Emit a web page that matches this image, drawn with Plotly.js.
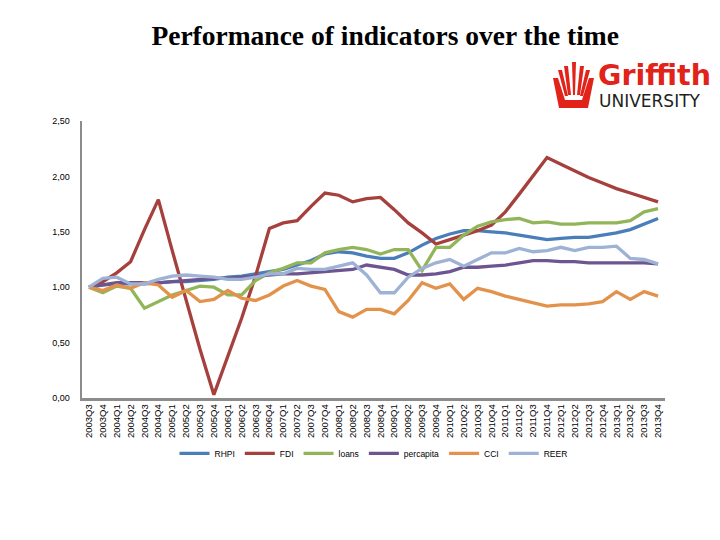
<!DOCTYPE html>
<html>
<head>
<meta charset="utf-8">
<script src="https://cdn.plot.ly/plotly-3.0.1.min.js"></script>
<style>html,body{margin:0;padding:0;background:#fff;}#chart{width:720px;height:540px;}</style>
</head>
<body>
<div id="chart"></div>
<script>
const quarters = ["2003Q3","2003Q4","2004Q1","2004Q2","2004Q3","2004Q4","2005Q1","2005Q2","2005Q3","2005Q4",
"2006Q1","2006Q2","2006Q3","2006Q4","2007Q1","2007Q2","2007Q3","2007Q4","2008Q1","2008Q2","2008Q3","2008Q4",
"2009Q1","2009Q2","2009Q3","2009Q4","2010Q1","2010Q2","2010Q3","2010Q4","2011Q1","2011Q2","2011Q3","2011Q4",
"2012Q1","2012Q2","2012Q3","2012Q4","2013Q1","2013Q2","2013Q3","2013Q4"];

const rhpi = [1.00,1.02,1.03,1.03,1.03,1.04,1.05,1.05,1.06,1.07,1.09,1.10,1.12,1.14,1.16,1.20,1.24,1.30,1.32,1.31,1.28,1.26,
1.26,1.31,1.38,1.44,1.48,1.51,1.51,1.50,1.49,1.47,1.45,1.43,1.44,1.45,1.45,1.47,1.49,1.52,1.57,1.62];
const fdi = [1.00,1.05,1.13,1.23,1.52,1.79,1.33,0.88,0.44,0.03,0.38,0.72,1.10,1.53,1.58,1.60,1.73,1.85,1.83,1.77,1.80,1.81,
1.70,1.58,1.49,1.39,1.43,1.47,1.51,1.56,1.68,1.84,2.00,2.17,2.11,2.05,1.99,1.94,1.89,1.85,1.81,1.77];
const loans = [1.00,0.95,1.01,0.99,0.81,0.87,0.93,0.97,1.01,1.00,0.93,0.93,1.06,1.13,1.17,1.22,1.22,1.31,1.34,1.36,1.34,1.30,
1.34,1.34,1.15,1.36,1.36,1.47,1.55,1.59,1.61,1.62,1.58,1.59,1.57,1.57,1.58,1.58,1.58,1.60,1.68,1.71];
const percapita = [1.00,1.02,1.04,1.04,1.04,1.04,1.05,1.06,1.07,1.08,1.08,1.09,1.10,1.11,1.12,1.12,1.13,1.14,1.15,1.16,1.20,1.18,
1.16,1.11,1.11,1.12,1.14,1.18,1.18,1.19,1.20,1.22,1.24,1.24,1.23,1.23,1.22,1.22,1.22,1.22,1.22,1.21];
const cci = [1.00,0.97,1.02,0.99,1.04,1.02,0.91,0.97,0.87,0.89,0.97,0.90,0.88,0.93,1.01,1.06,1.01,0.98,0.78,0.73,0.80,0.80,
0.76,0.88,1.04,0.99,1.03,0.89,0.99,0.96,0.92,0.89,0.86,0.83,0.84,0.84,0.85,0.87,0.96,0.89,0.96,0.92];
const reer = [1.00,1.08,1.09,1.03,1.03,1.07,1.10,1.11,1.10,1.09,1.07,1.07,1.09,1.12,1.12,1.17,1.16,1.16,1.19,1.22,1.11,0.95,
0.95,1.09,1.17,1.22,1.25,1.19,1.25,1.31,1.31,1.35,1.32,1.33,1.36,1.33,1.36,1.36,1.37,1.26,1.25,1.21];

const seriesNames = ["RHPI","FDI","loans","percapita","CCI","REER"];
const seriesData = [rhpi, fdi, loans, percapita, cci, reer];
const colors = ["#4A7EBB","#A5403D","#93B55A","#6D5690","#E3924B","#9EB2D5"];

const traces = seriesData.map((d,i)=>({
  type:"scatter", mode:"lines", name:seriesNames[i], x:quarters, y:d,
  line:{color:colors[i], width:3.3}
}));

// plot area in pixels: left 82, right 665, top 121, bottom 398
const L=82, R=665, T=121, B=398;
const px = x => (x-L)/(R-L);
const py = y => (B-y)/(B-T);

// Griffith logo emblem (decorative)
function poly(pts){ return "M" + pts.map(p=>px(p[0]).toFixed(4)+","+py(p[1]).toFixed(4)).join(" L") + " Z"; }
const red = "#E2231A";
const logoShapes = [
  poly([[553,78],[558,78],[565,100],[582,100],[589,78],[594,78],[588,108],[559,108]]),
  poly([[558,70],[562,70],[568,96],[565,96]]),
  poly([[564,66],[568,66],[571,95],[568,95]]),
  poly([[572,62],[576,62],[575,95],[573,95]]),
  poly([[580,66],[584,66],[580,95],[577,95]]),
  poly([[586,70],[590,70],[583,96],[580,96]])
].map(p=>({type:"path", xref:"paper", yref:"paper", path:p, fillcolor:red, line:{width:0}}));

const layout = {
  width:720, height:540,
  margin:{l:L, r:720-R, t:T, b:540-B, pad:0},
  paper_bgcolor:"#fff", plot_bgcolor:"#fff",
  separators:",.",
  showlegend:true,
  title:{text:"<b>Performance of indicators over the time</b>", x:0.535, xanchor:"center", y:(540-35)/540, yanchor:"middle",
    font:{family:"Liberation Serif, Times New Roman, serif", size:27.5, color:"#000"}},
  xaxis:{type:"category", range:[-0.5, quarters.length-0.5], tickangle:-90, showgrid:false, zeroline:false,
    showline:true, linecolor:"#8c8c8c", linewidth:2.5, ticks:"", tickfont:{family:"Liberation Sans, Arial, sans-serif", size:9.5, color:"#000"},
    dtick:1, fixedrange:true},
  yaxis:{range:[0,2.5], dtick:0.5, tickformat:".2f", showgrid:false, zeroline:false, showline:true,
    linecolor:"#8c8c8c", linewidth:2.5, ticks:"", ticklabelstandoff:8,
    tickfont:{family:"Liberation Sans, Arial, sans-serif", size:9, color:"#000"}},
  legend:{orientation:"h", x:0.5, xanchor:"center", y:-0.2, yanchor:"middle",
    font:{family:"Liberation Sans, Arial, sans-serif", size:8.5, color:"#000"}, itemwidth:30, tracegroupgap:0},
  shapes: logoShapes,
  annotations:[
    {xref:"paper", yref:"paper", x:px(596), y:py(76), xanchor:"left", yanchor:"middle", showarrow:false,
      text:"<b>Griffith</b>", font:{family:"DejaVu Sans, Arial, sans-serif", size:28.5, color:red}},
    {xref:"paper", yref:"paper", x:px(597), y:py(101), xanchor:"left", yanchor:"middle", showarrow:false,
      text:"UNIVERSITY", font:{family:"DejaVu Sans, Arial, sans-serif", size:17, color:"#231F20"}}
  ]
};

Plotly.newPlot("chart", traces, layout, {displayModeBar:false, staticPlot:true});
</script>
</body>
</html>
